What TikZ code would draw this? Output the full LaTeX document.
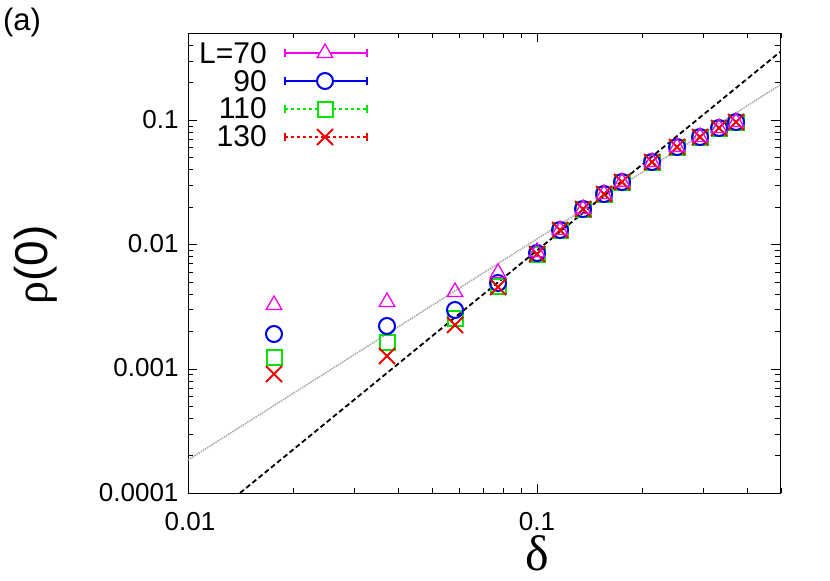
\documentclass[tikz,border=0pt]{standalone}
\usepackage{fontspec}
\setmainfont{Liberation Sans}
\newfontfamily\symfont{Liberation Serif}
\usetikzlibrary{shapes.geometric,shapes.misc}
\definecolor{cmag}{RGB}{240,0,240}
\definecolor{cblue}{RGB}{0,0,230}
\definecolor{cgreen}{RGB}{0,230,0}
\definecolor{cred}{RGB}{240,0,0}
\tikzset{
  tri/.style={regular polygon, regular polygon sides=3, draw=cmag, line width=1.3pt, minimum size=18pt, inner sep=0pt},
  circ/.style={circle, draw=cblue, line width=2pt, minimum size=16pt, inner sep=0pt},
  sqr/.style={rectangle, draw=cgreen, line width=2pt, minimum size=15pt, inner sep=0pt},
  crs/.style={cross out, draw=cred, line width=2pt, minimum size=14pt, inner sep=0pt},
  ticklab/.style={font=\fontsize{26}{26}\selectfont},
  leglab/.style={font=\fontsize{30}{30}\selectfont, anchor=east, inner sep=1pt}
}
\begin{document}
\begin{tikzpicture}[x=1pt,y=-1pt]
\useasboundingbox (0,0) rectangle (830,581);
% frame
\draw[line width=1pt] (188,33) rectangle (780,493);
% x ticks
\foreach \d in {0,1}{
  \foreach \m in {1,...,9}{
    \pgfmathsetmacro\px{188+349*(\d+log10(\m))}
    \pgfmathsetmacro\len{\m==1 ? 9 : 5}
    \pgfmathparse{\px<=781 ? 1 : 0}
    \ifnum\pgfmathresult=1
      \draw (\px,493) -- ++(0,-\len);
      \draw (\px,33) -- ++(0,\len);
    \fi
  }
}
% y ticks
\foreach \d in {0,1,2,3}{
  \foreach \m in {1,...,9}{
    \pgfmathsetmacro\py{493-124.3*(\d+log10(\m))}
    \pgfmathsetmacro\len{\m==1 ? 9 : 5}
    \pgfmathparse{\py>=32 ? 1 : 0}
    \ifnum\pgfmathresult=1
      \draw (188,\py) -- ++(\len,0);
      \draw (780,\py) -- ++(-\len,0);
    \fi
  }
}
\node[ticklab] (x1) at (190,522) {0.01};
\node[ticklab] (x2) at (537,522) {0.1};
\node[ticklab, anchor=east] (y1) at (182,493) {0.0001};
\node[ticklab, anchor=east] (y2) at (182,368) {0.001};
\node[ticklab, anchor=east] (y3) at (182,244) {0.01};
\node[ticklab, anchor=east] (y4) at (182,120) {0.1};
\node[font=\symfont\fontsize{50}{50}\selectfont] (xl) at (537,553) {δ};
\node[font=\fontsize{46}{46}\selectfont, rotate=90] (yl) at (36,265) {{\symfont ρ}(0)};
\node[font=\fontsize{31}{31}\selectfont] (lab) at (22,22) {(a)};

% fit lines
\coordinate (ga) at (188,460);
\coordinate (gb) at (780,85);
\coordinate (ka) at (240,493);
\coordinate (kb) at (780,52);
\draw[gray!70, line width=1.5pt, densely dotted] (ga) -- (gb);
\draw[black, line width=1.8pt, dash pattern=on 5pt off 3pt] (ka) -- (kb);

% data
\foreach \x/\a/\b/\c/\e [count=\i] in {274/305/334/357/374, 387/302/326/342/356,
  455/292/310/318/325, 498/273/283/286/287, 537/252/253/254/254,
  560/230/230/230/230, 583/209/209/209/209, 604/194/194/194/194,
  622/182/182/182/182, 652/162/162/162/162, 677/147/147/147/147,
  700/137/137/137/137, 719/128/128/128/128, 736/122/122/122/122}{
  \node[sqr] (s\i) at (\x,\c) {};
  \node[circ] (c\i) at (\x,\b) {};
  \node[crs] (r\i) at (\x,\e) {};
  \node[tri] (t\i) at (\x,\a) {};
}

% legend
\node[leglab] (l1) at (268,53) {L=70};
\node[leglab] (l2) at (268,81) {90};
\node[leglab] (l3) at (268,108) {110};
\node[leglab] (l4) at (268,136) {130};
\foreach \j/\col/\sty/\mk/\w in {1/cmag/solid/tri/1.5pt, 2/cblue/solid/circ/2pt,
  3/cgreen/dashed/sqr/2pt, 4/cred/dashed/crs/2pt}{
  \coordinate (la\j) at (285,{25+28*\j});
  \coordinate (lb\j) at (367,{25+28*\j});
  \draw[draw=\col, \sty, line width=\w] (la\j) -- (lb\j);
  \draw[draw=\col, line width=\w] ([yshift=-4pt]la\j) -- ([yshift=4pt]la\j);
  \draw[draw=\col, line width=\w] ([yshift=-4pt]lb\j) -- ([yshift=4pt]lb\j);
  \node[\mk, fill=white] (m\j) at (325,{25+28*\j}) {};
}
\end{tikzpicture}
\end{document}
